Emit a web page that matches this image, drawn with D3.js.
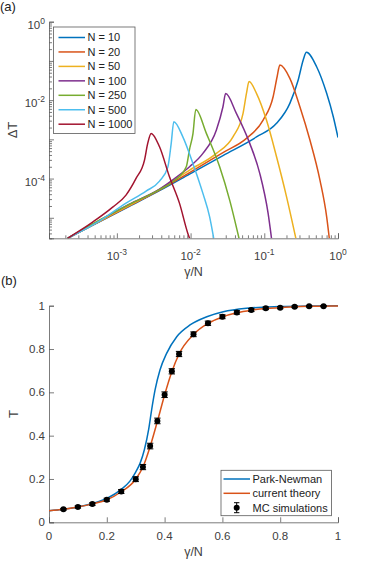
<!DOCTYPE html>
<html><head><meta charset="utf-8">
<script src="https://cdn.jsdelivr.net/npm/d3@7"></script>
<style>
html,body{margin:0;padding:0;background:#fff;}
svg{display:block;font-family:"Liberation Sans",Arial,Helvetica,sans-serif;}
</style></head>
<body>
<svg id="chart" width="374" height="561"></svg>
<script>
// ---------- Panel (a) data: ΔT vs γ/N (log-log) ----------
const seriesNames = ["N = 10","N = 20","N = 50","N = 100","N = 250","N = 500","N = 1000"];
const x10 = [2.14e-4,5.78e-4,1.48e-3,3.79e-3,9.69e-3,0.0275,0.0783,0.1466,0.2223,0.2884,0.3373,0.3726,0.5129,0.7017,0.863,1.0];
const y10 = [3.0e-6,7.86e-6,1.96e-5,4.91e-5,1.30e-4,3.86e-4,1.15e-3,2.56e-3,8.28e-3,0.0326,0.1054,0.1657,0.0711,0.0149,3.77e-3,1.11e-3];
const x20 = [2.14e-4,5.78e-4,1.48e-3,3.79e-3,9.69e-3,0.0275,0.0573,0.0964,0.1318,0.1493,0.1625,0.2223,0.304,0.416,0.569,0.702,0.762];
const y20 = [3.0e-6,8.0e-6,2.01e-5,5.09e-5,1.42e-4,4.61e-4,1.06e-3,3.1e-3,0.0122,0.0395,0.0786,0.036,6.79e-3,9.6e-4,9.16e-5,1.06e-5,3.0e-6];
const x50 = [2.14e-4,5.78e-4,1.48e-3,3.79e-3,9.69e-3,0.0224,0.0376,0.0515,0.0573,0.0621,0.0783,0.107,0.1466,0.2005,0.268];
const y50 = [3.0e-6,8.15e-6,2.07e-5,5.33e-5,1.65e-4,4.39e-4,1.16e-3,4.6e-3,0.0149,0.0298,0.0149,3.1e-3,3.6e-4,3.43e-5,3.0e-6];
const x100 = [2.14e-4,5.78e-4,1.48e-3,3.79e-3,6.05e-3,9.69e-3,0.0147,0.0224,0.0275,0.0299,0.0418,0.0635,0.0868,0.1127,0.1253];
const y100 = [3.0e-6,8.5e-6,2.23e-5,5.4e-5,1.0e-4,2.0e-4,4.39e-4,1.73e-3,6.79e-3,0.0147,4.6e-3,7.9e-4,1.36e-4,1.29e-5,3.0e-6];
const x250 = [2.14e-4,5.78e-4,1.33e-3,3.79e-3,5.74e-3,8.74e-3,9.69e-3,0.01075,0.01177,0.01637,0.0248,0.0339,0.0454];
const y250 = [3.0e-6,8.7e-6,1.99e-5,5.24e-5,8.28e-5,2.0e-4,5.66e-4,1.36e-3,5.75e-3,1.42e-3,2.0e-4,2.83e-5,3.0e-6];
const x500 = [2.14e-4,5.78e-4,1.33e-3,2.49e-3,3.79e-3,4.91e-3,5.46e-3,5.92e-3,7.85e-3,0.01075,0.0147,0.01814,0.0206];
const y500 = [3.0e-6,8.24e-6,2.37e-5,4.8e-5,8.6e-5,1.96e-4,7.9e-4,2.81e-3,1.16e-3,2.44e-4,4.19e-5,1.06e-5,3.0e-6];
const x1000 = [2.14e-4,4.69e-4,8.77e-4,1.33e-3,1.82e-3,2.37e-3,2.62e-3,2.92e-3,3.79e-3,5.17e-3,7.08e-3,9.18e-3,9.69e-3];
const y1000 = [3.0e-6,7.76e-6,1.87e-5,3.79e-5,1.01e-4,2.96e-4,7.9e-4,1.42e-3,6.47e-4,1.11e-4,2.33e-5,4.0e-6,3.0e-6];
const xTicksA = [1e-3,1e-2,1e-1,1];
const xTickExpA = ["-3","-2","-1","0"];
const yTicksA = [1e-4,1e-2,1];
const yTickExpA = ["-4","-2","0"];
const yMidTicksA = [1e-5,1e-3,1e-1];

// ---------- Panel (b) data: T vs γ/N ----------
const legendB = ["Park-Newman","current theory","MC simulations"];
const xPN = [0,0.05,0.1,0.15,0.2,0.25,0.28,0.30,0.315,0.33,0.345,0.355,0.367,0.384,0.407,0.442,0.488,0.546,0.603,0.684,0.8,0.9,1.0];
const tPN = [0.053,0.060,0.071,0.087,0.110,0.152,0.190,0.232,0.272,0.335,0.43,0.518,0.611,0.703,0.780,0.857,0.911,0.949,0.972,0.988,0.996,0.999,1.0];
const xCT = [0,0.05,0.1,0.15,0.2,0.25,0.3,0.325,0.35,0.375,0.4,0.425,0.45,0.5,0.55,0.6,0.65,0.7,0.75,0.8,0.85,0.9,0.95,1.0];
const tCT = [0.053,0.060,0.071,0.085,0.104,0.141,0.199,0.255,0.350,0.466,0.588,0.695,0.777,0.867,0.918,0.948,0.967,0.979,0.987,0.991,0.995,0.997,0.998,0.999];
const xMC = [0.05,0.1,0.15,0.2,0.25,0.3,0.325,0.35,0.375,0.4,0.425,0.45,0.5,0.55,0.6,0.65,0.7,0.75,0.8,0.85,0.9,0.95];
const tMC = [0.060,0.071,0.084,0.104,0.142,0.199,0.255,0.352,0.468,0.589,0.697,0.777,0.868,0.919,0.949,0.969,0.980,0.988,0.991,0.995,0.997,0.998];
const eMC = [0.004,0.005,0.006,0.007,0.009,0.011,0.012,0.013,0.013,0.013,0.012,0.012,0.011,0.010,0.009,0.008,0.007,0.006,0.005,0.004,0.003,0.003];
const ticksB = [0,0.2,0.4,0.6,0.8,1];

const colors = ["#0072BD","#D95319","#EDB120","#7E2F8E","#77AC30","#4DBEEE","#A2142F"];
const axisCol = "#5a5a5a", textCol = "#404040";

const svg = d3.select("#chart");

// ================= Panel (a) =================
const xA = d3.scaleLog().domain([1.2e-4,1]).range([49,338]);
const yA = d3.scaleLog().domain([3e-6,1]).range([238.3,21.7]);
const seriesA = [[x10,y10],[x20,y20],[x50,y50],[x100,y100],[x250,y250],[x500,y500],[x1000,y1000]];

svg.append("defs").append("clipPath").attr("id","clipA")
  .append("rect").attr("x",49).attr("y",21.7).attr("width",289).attr("height",216.6);

const gA = svg.append("g");
// axes (log, ticks inward)
const xAxisA = d3.axisBottom(xA).tickValues(xTicksA).tickSize(-5).tickFormat("");
const gxA = gA.append("g").attr("transform",`translate(0,${yA.range()[0]})`).call(xAxisA);
const minorX = [];
for (let e=-4;e<=-1;e++) for (let m=2;m<=9;m++){const v=m*Math.pow(10,e); if(v>=1.2e-4&&v<=1) minorX.push(v);}
gA.append("g").attr("transform",`translate(0,${yA.range()[0]})`)
  .call(d3.axisBottom(xA).tickValues(minorX).tickSize(-3).tickFormat("")).select(".domain").remove();
const yAxisA = d3.axisLeft(yA).tickValues(yTicksA.concat(yMidTicksA)).tickSize(-5).tickFormat("");
gA.append("g").attr("transform","translate(49,0)").call(yAxisA);
const minorY = [];
for (let e=-6;e<=-1;e++) for (let m=2;m<=9;m++){const v=m*Math.pow(10,e); if(v>=3e-6&&v<=1) minorY.push(v);}
gA.append("g").attr("transform","translate(49,0)")
  .call(d3.axisLeft(yA).tickValues(minorY).tickSize(-3).tickFormat("")).select(".domain").remove();
gA.selectAll(".domain,.tick line").attr("stroke",axisCol).attr("stroke-width",0.8);

// tick labels with superscripts
xTicksA.forEach((v,i)=>{
  const t = gA.append("text").attr("x",xA(v)).attr("y",260).attr("text-anchor","middle")
    .attr("fill",textCol).attr("font-size",11.5);
  t.append("tspan").text("10");
  t.append("tspan").attr("dy",-5).attr("font-size",8.5).text(xTickExpA[i]);
});
yTicksA.forEach((v,i)=>{
  const t = gA.append("text").attr("x",45).attr("y",yA(v)+7).attr("text-anchor","end")
    .attr("fill",textCol).attr("font-size",11.5);
  t.append("tspan").text("10");
  t.append("tspan").attr("dy",-5).attr("font-size",8.5).text(yTickExpA[i]);
});

// curves
const lineA = d3.line().x(d=>xA(d[0])).y(d=>yA(d[1])).curve(d3.curveMonotoneX);
const curvesA = gA.append("g").attr("clip-path","url(#clipA)");
seriesA.forEach((s,i)=>{
  const pts = s[0].map((x,k)=>[x,s[1][k]]);
  curvesA.append("path").attr("d",lineA(pts)).attr("fill","none")
    .attr("stroke",colors[i]).attr("stroke-width",1.5).attr("stroke-linejoin","round");
});

// axis labels
gA.append("text").attr("transform","translate(17,130) rotate(-90)").attr("text-anchor","middle")
  .attr("fill",textCol).attr("font-size",13).text("ΔT");
gA.append("text").attr("x",193.5).attr("y",276).attr("text-anchor","middle")
  .attr("fill",textCol).attr("font-size",12.5).text("γ/N");
svg.append("text").attr("x",0).attr("y",11).attr("fill","#222").attr("font-size",13).text("(a)");

// legend (a)
const legA = gA.append("g");
legA.append("rect").attr("x",53.5).attr("y",27).attr("width",81.5).attr("height",106.5)
  .attr("fill","#fff").attr("stroke",axisCol).attr("stroke-width",0.8);
seriesNames.forEach((n,i)=>{
  const yy = 37.5 + i*14.45;
  legA.append("line").attr("x1",58.5).attr("x2",85).attr("y1",yy).attr("y2",yy)
    .attr("stroke",colors[i]).attr("stroke-width",1.5);
  legA.append("text").attr("x",87.5).attr("y",yy).attr("dy","0.36em")
    .attr("fill","#222").attr("font-size",11).text(n);
});

// ================= Panel (b) =================
const xB = d3.scaleLinear().domain([0,1]).range([49,338]);
const yB = d3.scaleLinear().domain([0,1]).range([522.3,305.7]);
const gB = svg.append("g");
gB.append("g").attr("transform",`translate(0,${yB(0)})`)
  .call(d3.axisBottom(xB).tickValues(ticksB).tickSize(-5).tickFormat(""));
gB.append("g").attr("transform",`translate(${xB(0)},0)`)
  .call(d3.axisLeft(yB).tickValues(ticksB).tickSize(-5).tickFormat(""));
gB.selectAll(".domain,.tick line").attr("stroke",axisCol).attr("stroke-width",0.8);
ticksB.forEach(v=>{
  gB.append("text").attr("x",xB(v)).attr("y",539.5).attr("text-anchor","middle")
    .attr("fill",textCol).attr("font-size",11.5).text(d3.format("~g")(v));
  gB.append("text").attr("x",45).attr("y",yB(v)).attr("dy","0.35em").attr("text-anchor","end")
    .attr("fill",textCol).attr("font-size",11.5).text(d3.format("~g")(v));
});

const lineB = d3.line().x(d=>xB(d[0])).y(d=>yB(d[1])).curve(d3.curveMonotoneX);
gB.append("path").attr("d",lineB(xPN.map((x,k)=>[x,tPN[k]]))).attr("fill","none")
  .attr("stroke",colors[0]).attr("stroke-width",1.5);
gB.append("path").attr("d",lineB(xCT.map((x,k)=>[x,tCT[k]]))).attr("fill","none")
  .attr("stroke",colors[1]).attr("stroke-width",1.5);

// MC error bars and markers
const mc = gB.append("g");
xMC.forEach((x,k)=>{
  const cx = xB(x), y0 = yB(tMC[k]-eMC[k]), y1 = yB(tMC[k]+eMC[k]);
  mc.append("line").attr("x1",cx).attr("x2",cx).attr("y1",y0).attr("y2",y1).attr("stroke","#000").attr("stroke-width",1);
  mc.append("line").attr("x1",cx-3.2).attr("x2",cx+3.2).attr("y1",y0).attr("y2",y0).attr("stroke","#000").attr("stroke-width",1);
  mc.append("line").attr("x1",cx-3.2).attr("x2",cx+3.2).attr("y1",y1).attr("y2",y1).attr("stroke","#000").attr("stroke-width",1);
  mc.append("circle").attr("cx",cx).attr("cy",yB(tMC[k])).attr("r",3).attr("fill","#000");
});

gB.append("text").attr("transform","translate(18,414) rotate(-90)").attr("text-anchor","middle")
  .attr("fill",textCol).attr("font-size",13).text("T");
gB.append("text").attr("x",193.5).attr("y",556).attr("text-anchor","middle")
  .attr("fill",textCol).attr("font-size",12.5).text("γ/N");
svg.append("text").attr("x",1).attr("y",285).attr("fill","#222").attr("font-size",13).text("(b)");

// legend (b)
const legB = gB.append("g");
legB.append("rect").attr("x",221).attr("y",470.3).attr("width",110.5).attr("height",45.4)
  .attr("fill","#fff").attr("stroke",axisCol).attr("stroke-width",0.8);
const legYs = [479,493.3,507.7];
[0,1].forEach(i=>{
  legB.append("line").attr("x1",223.5).attr("x2",250).attr("y1",legYs[i]).attr("y2",legYs[i])
    .attr("stroke",colors[i]).attr("stroke-width",1.5);
});
legB.append("line").attr("x1",236.7).attr("x2",236.7).attr("y1",legYs[2]-5).attr("y2",legYs[2]+5).attr("stroke","#000");
legB.append("line").attr("x1",234).attr("x2",239.4).attr("y1",legYs[2]-5).attr("y2",legYs[2]-5).attr("stroke","#000");
legB.append("line").attr("x1",234).attr("x2",239.4).attr("y1",legYs[2]+5).attr("y2",legYs[2]+5).attr("stroke","#000");
legB.append("circle").attr("cx",236.7).attr("cy",legYs[2]).attr("r",3).attr("fill","#000");
legendB.forEach((n,i)=>{
  legB.append("text").attr("x",252.5).attr("y",legYs[i]).attr("dy","0.36em")
    .attr("fill","#222").attr("font-size",11).text(n);
});
</script>
</body></html>
